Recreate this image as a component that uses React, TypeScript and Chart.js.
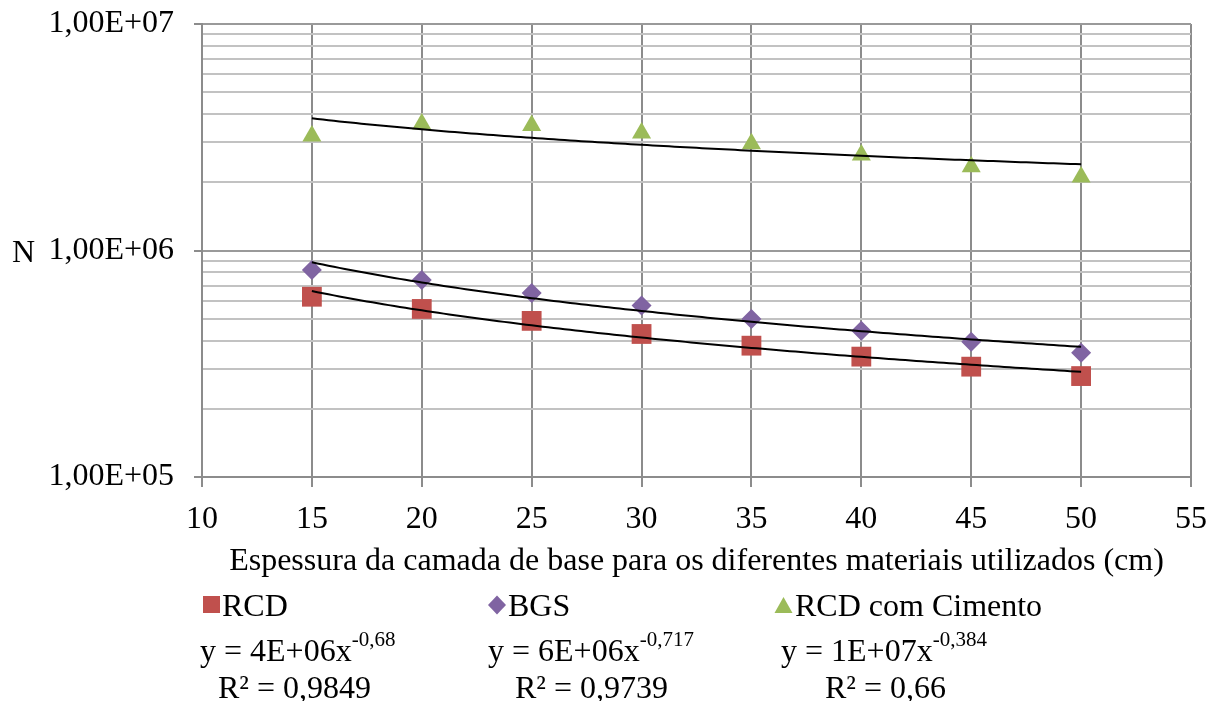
import React, { useEffect, useRef } from 'react';
import { Chart, registerables } from 'chart.js';

Chart.register(...registerables);

// ---- data ----
const thickness = [15, 20, 25, 30, 35, 40, 45, 50];
const rcdValues = [6.25e5, 5.52e5, 4.89e5, 4.28e5, 3.8e5, 3.4e5, 3.07e5, 2.79e5];
const bgsValues = [8.2e5, 7.41e5, 6.49e5, 5.71e5, 4.98e5, 4.42e5, 3.95e5, 3.54e5];
const cimentoValues = [3.2e6, 3.62e6, 3.56e6, 3.3e6, 2.96e6, 2.64e6, 2.34e6, 2.11e6];

const xTicks = [10, 15, 20, 25, 30, 35, 40, 45, 50, 55];
const yGridValues = [
  1e5, 2e5, 3e5, 4e5, 5e5, 6e5, 7e5, 8e5, 9e5,
  1e6, 2e6, 3e6, 4e6, 5e6, 6e6, 7e6, 8e6, 9e6,
  1e7,
];
const yMajorValues = [1e5, 1e6, 1e7];
const yMajorLabels = ['1,00E+05', '1,00E+06', '1,00E+07'];

const seriesNames = ['RCD', 'BGS', 'RCD com Cimento'];
const seriesColors = ['#C0504D', '#8064A2', '#9BBB59'];
const equations = ['y = 4E+06x', 'y = 6E+06x', 'y = 1E+07x'];
const exponents = ['-0,68', '-0,717', '-0,384'];
const rSquared = ['R² = 0,9849', 'R² = 0,9739', 'R² = 0,66'];
const xTitle = 'Espessura da camada de base para os diferentes materiais utilizados (cm)';
const yTitle = 'N';

const FONT = '"Liberation Serif", "Times New Roman", serif';

// power-law trendline (least squares in log-log space), as the spreadsheet does
function trendline(xs: number[], ys: number[]) {
  const lx = xs.map(Math.log);
  const ly = ys.map(Math.log);
  const n = xs.length;
  const mx = lx.reduce((s, v) => s + v, 0) / n;
  const my = ly.reduce((s, v) => s + v, 0) / n;
  let sxy = 0;
  let sxx = 0;
  for (let i = 0; i < n; i++) {
    sxy += (lx[i] - mx) * (ly[i] - my);
    sxx += (lx[i] - mx) * (lx[i] - mx);
  }
  const b = sxy / sxx;
  const a = Math.exp(my - b * mx);
  const pts: { x: number; y: number }[] = [];
  const x0 = Math.min(...xs);
  const x1 = Math.max(...xs);
  for (let x = x0; x <= x1 + 1e-9; x += 0.25) pts.push({ x, y: a * Math.pow(x, b) });
  return pts;
}

const toPoints = (ys: number[]) => thickness.map((x, i) => ({ x, y: ys[i] }));

const legendPlugin = {
  id: 'customLegend',
  afterDraw(chart: any) {
    const ctx = chart.ctx as CanvasRenderingContext2D;
    ctx.save();
    ctx.fillStyle = '#000';
    ctx.textBaseline = 'alphabetic';
    ctx.textAlign = 'left';

    // y-axis title
    ctx.font = `32px ${FONT}`;
    ctx.fillText(yTitle, 12, 262);

    // legend markers
    const rowY = 605;
    const markerX = [211.5, 497, 783.5];
    const textX = [222, 508, 795];
    ctx.fillStyle = seriesColors[0];
    ctx.fillRect(markerX[0] - 8.5, rowY - 9, 17, 17);
    ctx.fillStyle = seriesColors[1];
    ctx.beginPath();
    ctx.moveTo(markerX[1], rowY - 9.5);
    ctx.lineTo(markerX[1] + 9, rowY);
    ctx.lineTo(markerX[1], rowY + 9.5);
    ctx.lineTo(markerX[1] - 9, rowY);
    ctx.closePath();
    ctx.fill();
    ctx.fillStyle = seriesColors[2];
    ctx.beginPath();
    ctx.moveTo(markerX[2], rowY - 8);
    ctx.lineTo(markerX[2] + 9, rowY + 8);
    ctx.lineTo(markerX[2] - 9, rowY + 8);
    ctx.closePath();
    ctx.fill();

    ctx.fillStyle = '#000';
    ctx.font = `32px ${FONT}`;
    seriesNames.forEach((name, i) => ctx.fillText(name, textX[i], rowY + 11));

    // equations
    const eqX = [200, 488, 781];
    const eqBase = 661;
    equations.forEach((eq, i) => {
      ctx.font = `32px ${FONT}`;
      ctx.fillText(eq, eqX[i], eqBase);
      const w = ctx.measureText(eq).width;
      ctx.font = `21px ${FONT}`;
      ctx.fillText(exponents[i], eqX[i] + w, eqBase - 15);
    });

    // R squared
    const rX = [218, 515, 825];
    ctx.font = `32px ${FONT}`;
    rSquared.forEach((r, i) => ctx.fillText(r, rX[i], 698));
    ctx.restore();
  },
};

export default function App() {
  const canvasRef = useRef<HTMLCanvasElement | null>(null);

  useEffect(() => {
    if (!canvasRef.current) return;
    const isMajor = (v: number) => yMajorValues.some((m) => Math.abs(m - v) / m < 1e-9);

    const chart = new Chart(canvasRef.current, {
      type: 'scatter',
      data: {
        datasets: [
          {
            label: 'trend RCD',
            data: trendline(thickness, rcdValues),
            showLine: true,
            borderColor: '#000',
            borderWidth: 2,
            pointRadius: 0,
            order: 0,
          },
          {
            label: 'trend BGS',
            data: trendline(thickness, bgsValues),
            showLine: true,
            borderColor: '#000',
            borderWidth: 2,
            pointRadius: 0,
            order: 0,
          },
          {
            label: 'trend Cimento',
            data: trendline(thickness, cimentoValues),
            showLine: true,
            borderColor: '#000',
            borderWidth: 2,
            pointRadius: 0,
            order: 0,
          },
          {
            label: seriesNames[0],
            data: toPoints(rcdValues),
            pointStyle: 'rect',
            pointRadius: 14,
            backgroundColor: seriesColors[0],
            borderColor: seriesColors[0],
            borderWidth: 0,
            order: 1,
          },
          {
            label: seriesNames[1],
            data: toPoints(bgsValues),
            pointStyle: 'rectRot',
            pointRadius: 10,
            backgroundColor: seriesColors[1],
            borderColor: seriesColors[1],
            borderWidth: 0,
            order: 1,
          },
          {
            label: seriesNames[2],
            data: toPoints(cimentoValues),
            pointStyle: 'triangle',
            pointRadius: 11,
            backgroundColor: seriesColors[2],
            borderColor: seriesColors[2],
            borderWidth: 0,
            order: 1,
          },
        ],
      },
      options: {
        responsive: false,
        animation: false,
        devicePixelRatio: 1,
        layout: { padding: { top: 24, right: 29, left: 0, bottom: 0 } },
        plugins: {
          legend: { display: false },
          tooltip: { enabled: false },
        },
        scales: {
          x: {
            type: 'linear',
            min: 10,
            max: 55,
            afterBuildTicks: (scale: any) => {
              scale.ticks = xTicks.map((v) => ({ value: v }));
            },
            afterFit: (scale: any) => {
              scale.height = 224;
              scale.paddingLeft = 0;
              scale.paddingRight = 0;
            },
            ticks: {
              autoSkip: false,
              maxRotation: 0,
              padding: 13,
              color: '#000',
              font: { family: FONT, size: 32 },
            },
            grid: {
              color: '#8c8c8c',
              lineWidth: 2,
              tickLength: 10,
              tickColor: '#8c8c8c',
              tickWidth: 2,
            },
            border: { display: true, color: '#8c8c8c', width: 2 },
            title: {
              display: true,
              text: xTitle,
              color: '#000',
              font: { family: FONT, size: 32 },
              padding: { top: 0, bottom: 120 },
            },
          },
          y: {
            type: 'logarithmic',
            min: 1e5,
            max: 1e7,
            afterBuildTicks: (scale: any) => {
              scale.ticks = yGridValues.map((v) => ({ value: v, major: isMajor(v) }));
            },
            afterFit: (scale: any) => {
              scale.width = 202;
              scale.paddingTop = 0;
              scale.paddingBottom = 0;
            },
            ticks: {
              autoSkip: false,
              padding: 20,
              color: '#000',
              font: { family: FONT, size: 32 },
              callback: (value: any) => {
                const idx = yMajorValues.findIndex((m) => Math.abs(m - Number(value)) / m < 1e-9);
                return idx >= 0 ? yMajorLabels[idx] : '';
              },
            },
            grid: {
              color: (c: any) => (c.tick && isMajor(c.tick.value) ? '#9a9a9a' : '#c2c2c2'),
              lineWidth: 2,
              tickLength: 8,
              tickColor: (c: any) => (c.tick && isMajor(c.tick.value) ? '#8c8c8c' : 'rgba(0,0,0,0)'),
              tickWidth: 2,
            },
            border: { display: true, color: '#8c8c8c', width: 2 },
          },
        },
      },
      plugins: [legendPlugin],
    } as any);

    return () => chart.destroy();
  }, []);

  return (
    <div style={{ position: 'fixed', left: 0, top: 0, width: 1220, height: 701, background: '#fff' }}>
      <canvas ref={canvasRef} width={1220} height={701} style={{ width: 1220, height: 701 }} />
    </div>
  );
}
